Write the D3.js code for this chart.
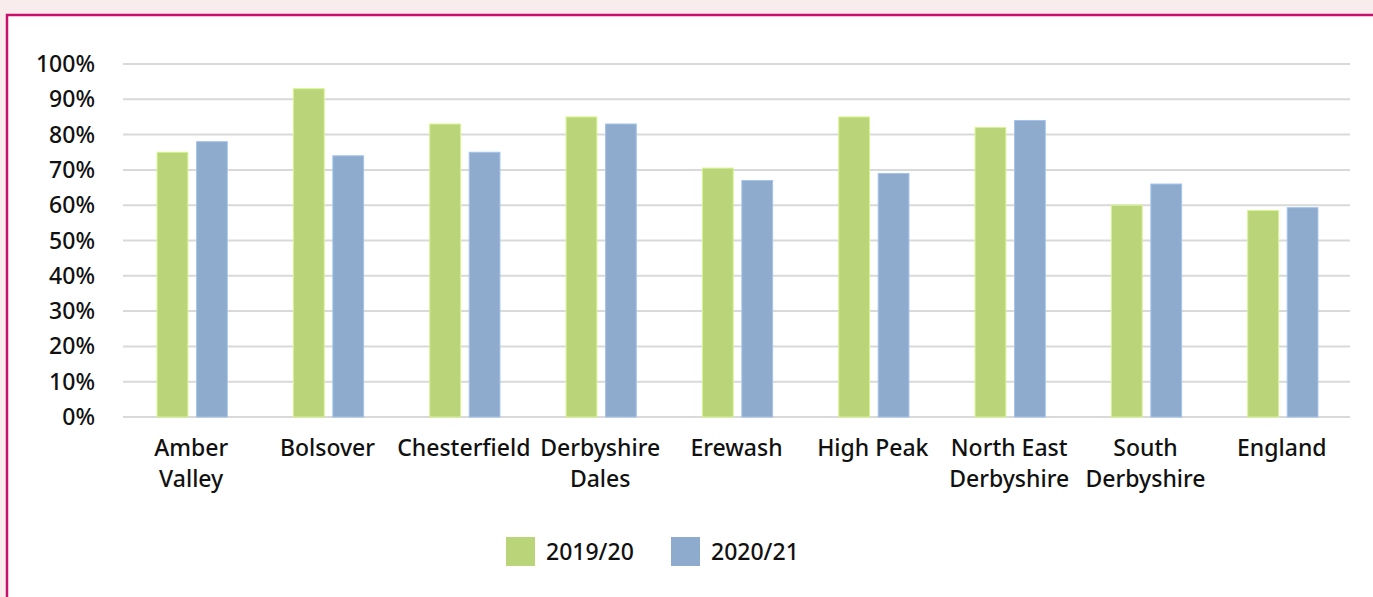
<!DOCTYPE html>
<html>
<head>
<meta charset="utf-8">
<script src="https://cdn.jsdelivr.net/npm/d3@7"></script>
<style>
  html, body { margin: 0; padding: 0; background: #f8ecec; }
  svg { display: block; }
  text { font-family: "Noto Sans", sans-serif; fill: #111; font-weight: 500; }
</style>
</head>
<body>
<div id="chartCont"></div>
<script>
// areas on the x axis (line breaks as shown in the chart)
const areas = ["Amber Valley", "Bolsover", "Chesterfield", "Derbyshire Dales", "Erewash",
  "High Peak", "North East Derbyshire", "South Derbyshire", "England"];
const areaLines = [["Amber", "Valley"], ["Bolsover"], ["Chesterfield"], ["Derbyshire", "Dales"],
  ["Erewash"], ["High Peak"], ["North East", "Derbyshire"], ["South", "Derbyshire"], ["England"]];
const series = ["2019/20", "2020/21"];
const values2019 = [75, 93, 83, 85, 70.5, 85, 82, 60, 58.5];
const values2020 = [78, 74, 75, 83, 67, 69, 84, 66, 59.3];
const yTicks = [0, 10, 20, 30, 40, 50, 60, 70, 80, 90, 100];
const colors = ["#bad47a", "#8eaacd"];

let width = 1373,
  height = 597;

let svg = d3.select("#chartCont")
  .append("svg")
  .attr("width", width)
  .attr("height", height);

// white panel with the magenta frame
svg.append("rect")
  .attr("x", 7).attr("y", 15)
  .attr("width", width + 10).attr("height", height + 10)
  .attr("fill", "#fff")
  .attr("stroke", "#c8106a")
  .attr("stroke-width", 2.5);

let plot = { left: 123, right: 1350, top: 64, bottom: 417 };

let y = d3.scaleLinear().domain([0, 100]).range([plot.bottom, plot.top]);
let x0 = d3.scaleBand().domain(areas).range([plot.left, plot.right]);
let x1 = d3.scaleBand().domain(series)
  .range([x0.bandwidth() * 0.25, x0.bandwidth() * 0.765])
  .paddingInner(0.22);

// gridlines
svg.append("g")
  .selectAll("line")
  .data(yTicks)
  .enter().append("line")
  .attr("x1", plot.left).attr("x2", plot.right)
  .attr("y1", d => y(d)).attr("y2", d => y(d))
  .attr("stroke", "#d9d9d9")
  .attr("stroke-width", 2);

// y tick labels
svg.append("g")
  .selectAll("text")
  .data(yTicks)
  .enter().append("text")
  .attr("x", 95)
  .attr("y", d => y(d))
  .attr("dy", "0.35em")
  .attr("text-anchor", "end")
  .style("font-size", "23px")
  .text(d => d + "%");

// bars
let data = areas.map((a, i) => ({ area: a, vals: [values2019[i], values2020[i]] }));

let groups = svg.append("g")
  .selectAll("g")
  .data(data)
  .enter().append("g")
  .attr("transform", d => "translate(" + x0(d.area) + ",0)");

groups.selectAll("rect")
  .data(d => d.vals.map((v, j) => ({ key: series[j], v: v, j: j })))
  .enter().append("rect")
  .attr("x", d => x1(d.key))
  .attr("y", d => y(d.v))
  .attr("width", x1.bandwidth())
  .attr("height", d => y(0) - y(d.v))
  .attr("fill", d => colors[d.j])
  .attr("stroke", d => d3.color(colors[d.j]).brighter(0.4))
  .attr("stroke-width", 1);

// category labels
let labels = svg.append("g")
  .selectAll("text")
  .data(areas)
  .enter().append("text")
  .attr("x", d => x0(d) + x0.bandwidth() / 2)
  .attr("y", 456)
  .attr("text-anchor", "middle")
  .style("font-size", "23px");

labels.selectAll("tspan")
  .data((d, i) => areaLines[i])
  .enter().append("tspan")
  .attr("x", function() { return d3.select(this.parentNode).attr("x"); })
  .attr("dy", (d, i) => i === 0 ? 0 : 31)
  .text(d => d);

// legend
let legendX = [506, 671];
let legend = svg.append("g")
  .selectAll("g")
  .data(series)
  .enter().append("g")
  .attr("transform", (d, i) => "translate(" + legendX[i] + ",537)");

legend.append("rect")
  .attr("width", 29).attr("height", 29)
  .attr("fill", (d, i) => colors[i]);

legend.append("text")
  .attr("x", 40).attr("y", 14.5)
  .attr("dy", "0.35em")
  .style("font-size", "23px")
  .text(d => d);
</script>
</body>
</html>
